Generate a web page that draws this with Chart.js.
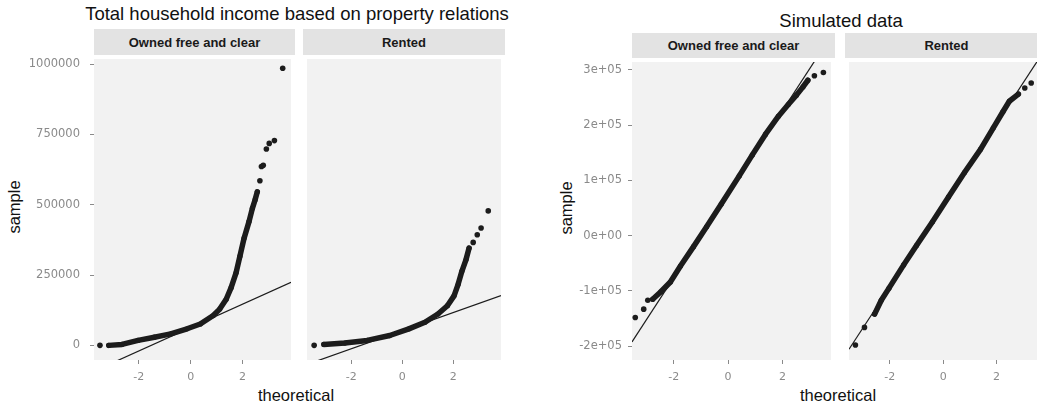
<!DOCTYPE html>
<html>
<head>
<meta charset="utf-8">
<script src="https://cdn.jsdelivr.net/npm/chart.js@4.4.1/dist/chart.umd.min.js"></script>
<style>
  html, body { margin: 0; padding: 0; background: #fff; width: 1037px; height: 406px; overflow: hidden; position: relative; font-family: "Liberation Sans", Arial, sans-serif; }
  canvas { position: absolute; }
  .title { position: absolute; font-size: 18.5px; color: #111; white-space: nowrap; transform: translate(-50%, -50%); }
  .strip { position: absolute; background: #e3e3e3; font-size: 13px; font-weight: bold; color: #1a1a1a; display: flex; align-items: center; justify-content: center; white-space: nowrap; overflow: hidden; }
  .axt { position: absolute; font-size: 16.5px; color: #111; white-space: nowrap; transform: translate(-50%, -50%); }
  .axt.rot { transform: translate(-50%, -50%) rotate(-90deg); }
</style>
</head>
<body>

<div class="title" style="left:297px; top:14px;">Total household income based on property relations</div>
<div class="title" style="left:841px; top:21px;">Simulated data</div>

<div class="strip" style="left:94px; top:29px; width:201px; height:26px;">Owned free and clear</div>
<div class="strip" style="left:303px; top:29px; width:202px; height:26px;">Rented</div>
<div class="strip" style="left:632px; top:33px; width:203px; height:25px;">Owned free and clear</div>
<div class="strip" style="left:845px; top:33px; width:203px; height:25px;">Rented</div>

<div class="axt rot" style="left:14px; top:207px;">sample</div>
<div class="axt rot" style="left:566px; top:208px;">sample</div>
<div class="axt" style="left:296px; top:395px;">theoretical</div>
<div class="axt" style="left:838px; top:395px;">theoretical</div>

<canvas id="incOwned"></canvas>
<canvas id="incRented"></canvas>
<canvas id="simOwned"></canvas>
<canvas id="simRented"></canvas>

<script>
// ---- Axis ticks ----
const theoreticalTicks = [-2, 0, 2];
const incomeTicks = [0, 250000, 500000, 750000, 1000000];
const incomeTickLabels = ['0', '250000', '500000', '750000', '1000000'];
const simTicks = [-200000, -100000, 0, 100000, 200000, 300000];
const simTickLabels = ['-2e+05', '-1e+05', '0e+00', '1e+05', '2e+05', '3e+05'];

// ---- Household income quantiles: [theoretical, sample] ----
const incOwnedLow = [[-3.50, 0]];
const incOwnedBody = [
  [-3.16, 0], [-2.65, 3500], [-2.03, 17600], [-1.40, 29000], [-0.77, 41000],
  [-0.14, 59000], [0.37, 76000], [0.87, 106000], [1.12, 129000], [1.37, 164000],
  [1.56, 205000], [1.75, 258000], [1.90, 317000], [2.06, 381000], [2.25, 440000],
  [2.38, 487000], [2.48, 516000], [2.57, 546000]
];
const incOwnedHigh = [
  [2.67, 585000], [2.73, 636000], [2.80, 640000], [2.92, 698000],
  [3.03, 718000], [3.23, 728000], [3.55, 985000]
];

const incRentedLow = [[-3.45, 0]];
const incRentedBody = [
  [-3.07, 3500], [-2.25, 8100], [-1.37, 17600], [-0.49, 35000], [0.26, 58800],
  [0.89, 82000], [1.40, 111600], [1.77, 141000], [2.03, 176000], [2.19, 217000],
  [2.34, 264000], [2.50, 305000], [2.62, 346000]
];
const incRentedHigh = [[2.78, 366000], [2.94, 393000], [3.09, 417000], [3.37, 478000]];

// ---- Simulated normal quantiles ----
const simOwnedLow = [[-3.41, -148000], [-3.10, -133000], [-2.95, -117000]];
const simOwnedBody = [
  [-2.77, -115000], [-2.48, -102000], [-2.12, -84000], [-1.75, -55000], [-1.27, -20000],
  [-0.79, 16000], [-0.25, 57000], [0.41, 108000], [0.89, 146000], [1.37, 183000],
  [1.85, 216000], [2.21, 237000], [2.51, 254000], [2.75, 269000], [2.93, 281000]
];
const simOwnedHigh = [[3.17, 289000], [3.50, 295000]];

const simRentedLow = [[-3.29, -198000], [-2.95, -166000]];
const simRentedBody = [
  [-2.57, -142000], [-2.32, -117000], [-2.03, -95000], [-1.48, -53000], [-1.00, -18000],
  [-0.40, 25000], [0.20, 70000], [0.80, 114000], [1.40, 156000], [1.88, 195000],
  [2.24, 224000], [2.48, 243000], [2.82, 256000]
];
const simRentedHigh = [[3.06, 267000], [3.30, 276000]];

// ---- Reference lines: [intercept, slope] ----
const incOwnedLine = [63300, 41570];
const incRentedLine = [52100, 32180];
const simOwnedLine = [75000, 75700];
const simRentedLine = [55000, 73800];

const INK = '#1c1c1c';
const TICK_GREY = '#8a8a8a';

const panelFill = {
  id: 'panelFill',
  beforeDraw(chart) {
    const { ctx, chartArea: a } = chart;
    ctx.save();
    ctx.fillStyle = '#f2f2f2';
    ctx.fillRect(a.left, a.top, a.right - a.left, a.bottom - a.top);
    ctx.restore();
  }
};

const toXY = arr => arr.map(p => ({ x: p[0], y: p[1] }));

function zeroPad(s) {
  s.paddingTop = 0; s.paddingBottom = 0; s.paddingLeft = 0; s.paddingRight = 0;
}

function panel(cfg) {
  const cv = document.getElementById(cfg.id);
  cv.width = cfg.w; cv.height = cfg.h;
  cv.style.left = cfg.left + 'px'; cv.style.top = cfg.top + 'px';
  cv.style.width = cfg.w + 'px'; cv.style.height = cfg.h + 'px';

  const [a, b] = cfg.line;
  const [xMin, xMax] = cfg.xRange;
  const datasets = [
    { data: [{ x: xMin, y: a + b * xMin }, { x: xMax, y: a + b * xMax }],
      showLine: true, borderColor: INK, borderWidth: 1.2, pointRadius: 0, clip: 0, order: 3 },
    { data: toXY(cfg.body), showLine: true, borderColor: INK, borderWidth: 5.5,
      borderJoinStyle: 'round', borderCapStyle: 'round',
      pointRadius: 2.6, pointBackgroundColor: INK, pointBorderWidth: 0, order: 2 },
    { data: toXY(cfg.low.concat(cfg.high)), showLine: false,
      pointRadius: 2.8, pointBackgroundColor: INK, pointBorderWidth: 0, order: 1 }
  ];

  new Chart(cv.getContext('2d'), {
    type: 'scatter',
    data: { datasets },
    plugins: [panelFill],
    options: {
      responsive: false, animation: false, devicePixelRatio: 1,
      layout: { padding: 0 },
      plugins: { legend: { display: false }, tooltip: { enabled: false } },
      scales: {
        x: {
          type: 'linear', min: xMin, max: xMax,
          afterBuildTicks: s => { s.ticks = theoreticalTicks.map(v => ({ value: v })); },
          afterFit: s => { s.height = cfg.h - cfg.panelH; zeroPad(s); },
          grid: { drawOnChartArea: false, drawTicks: true, tickLength: 4, tickColor: TICK_GREY, tickWidth: 1 },
          border: { display: false },
          ticks: { padding: 7, color: TICK_GREY, font: { family: 'DejaVu Sans', size: 11 }, maxRotation: 0,
                   callback: v => String(v) }
        },
        y: {
          type: 'linear', display: cfg.showY, min: cfg.yRange[0], max: cfg.yRange[1],
          afterBuildTicks: s => { s.ticks = cfg.yTicks.map(v => ({ value: v })); },
          afterFit: s => { s.width = cfg.showY ? cfg.yw : 0; zeroPad(s); },
          grid: { drawOnChartArea: false, drawTicks: true, tickLength: 4, tickColor: TICK_GREY, tickWidth: 1 },
          border: { display: false },
          ticks: { padding: cfg.yPad, color: TICK_GREY, font: { family: 'DejaVu Sans', size: 11.5 },
                   callback: v => cfg.yLabels[cfg.yTicks.indexOf(v)] }
        }
      }
    }
  });
}

const incX = [-3.73, 3.87], incY = [-52000, 1018000];
const simX = [-3.53, 3.78], simY = [-225000, 314000];

panel({ id: 'incOwned', left: 0, top: 55, w: 295, h: 337, panelH: 305, showY: true, yw: 94, yPad: 10,
        xRange: incX, yRange: incY, yTicks: incomeTicks, yLabels: incomeTickLabels,
        low: incOwnedLow, body: incOwnedBody, high: incOwnedHigh, line: incOwnedLine });
panel({ id: 'incRented', left: 303, top: 55, w: 202, h: 337, panelH: 305, showY: false,
        xRange: incX, yRange: incY, yTicks: incomeTicks, yLabels: incomeTickLabels,
        low: incRentedLow, body: incRentedBody, high: incRentedHigh, line: incRentedLine });
panel({ id: 'simOwned', left: 560, top: 58, w: 275, h: 334, panelH: 302, showY: true, yw: 72, yPad: 6,
        xRange: simX, yRange: simY, yTicks: simTicks, yLabels: simTickLabels,
        low: simOwnedLow, body: simOwnedBody, high: simOwnedHigh, line: simOwnedLine });
panel({ id: 'simRented', left: 845, top: 58, w: 203, h: 334, panelH: 302, showY: false,
        xRange: simX, yRange: simY, yTicks: simTicks, yLabels: simTickLabels,
        low: simRentedLow, body: simRentedBody, high: simRentedHigh, line: simRentedLine });
</script>
</body>
</html>
